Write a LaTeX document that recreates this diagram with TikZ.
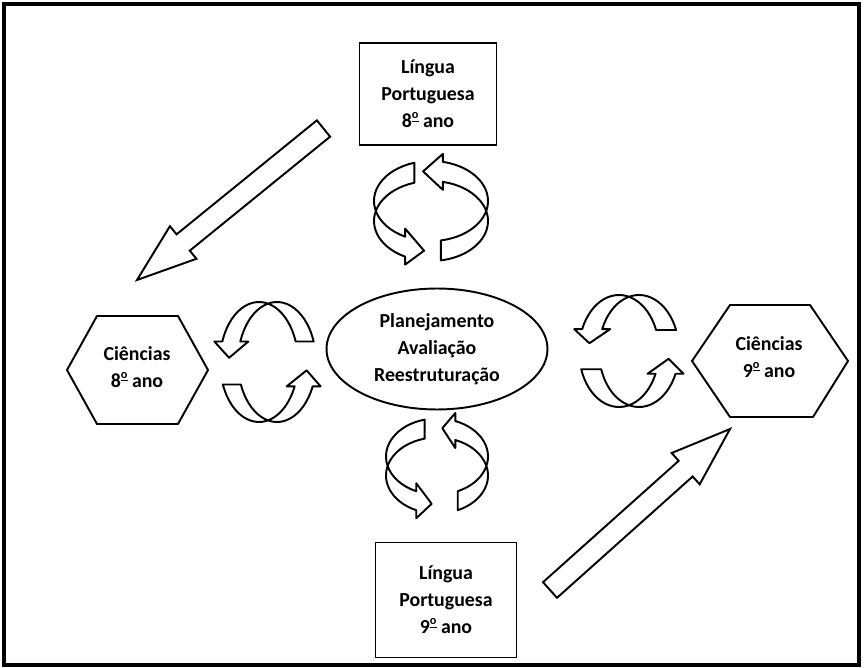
\documentclass[tikz,border=0pt]{standalone}
\usepackage{fontspec}
\setmainfont{Carlito}
\usetikzlibrary{calc,shapes.geometric}

% ordinal com sublinhado
\newcommand{\ordo}{\raisebox{0.95ex}{\fontsize{7}{7}\selectfont\underline{o}}}

% fita curva: a, b, d, hoek start, hoek kop, hoek punt
\newcommand{\fita}[6]{%
  \draw[fita] ($(#4:#1 and #2)+(0,#3)$)
    arc[start angle=#4, end angle=#5, x radius=#1, y radius=#2]
    -- ($(#5:#1 and #2)+(0,#3+8)$) -- (#6:#1 and #2)
    -- ($(#5:#1 and #2)+(0,-#3-8)$) -- ($(#5:#1 and #2)+(0,-#3)$)
    arc[start angle=#5, end angle=#4, x radius=#1, y radius=#2] -- cycle;}

% seta larga van #1 naar #2
\newcommand{\setagrande}[2]{%
  \coordinate (#2-b) at ($(#2)!1.19cm!(#1)$);
  \draw[seta larga] ($(#1)!0.21cm!90:(#2)$) -- ($(#2-b)!0.21cm!90:(#2)$)
    -- ($(#2-b)!0.42cm!90:(#2)$) -- (#2)
    -- ($(#2-b)!0.42cm!-90:(#2)$) -- ($(#2-b)!0.21cm!-90:(#2)$)
    -- ($(#1)!0.21cm!-90:(#2)$) -- cycle;}

\begin{document}
\begin{tikzpicture}[x=0.02cm, y=-0.02cm]
  \tikzset{
    linha/.style={draw, line width=1.1pt, line join=round},
    texto/.style={font=\bfseries\fontsize{11.3}{15.3}\selectfont, align=center},
    fita/.style={draw, fill=white, line width=1.1pt, line join=round},
    seta larga/.style={draw, fill=white, line width=1.1pt, line join=miter}
  }
  \useasboundingbox (0,0) rectangle (864,668);
  \draw[line width=1.8pt] (4,4) rectangle (859,665);

  % Centro
  \node[texto, draw, ellipse, line width=1.1pt, minimum width=4.42cm, minimum height=2.42cm, inner sep=1pt] (centro) at (437,349) {Planejamento\\Avaliação\\Reestruturação};

  % Língua Portuguesa (boven en onder)
  \node[texto, draw, line width=1.1pt, minimum width=2.74cm, minimum height=2.04cm] (lp8) at (428,94) {Língua\\Portuguesa\\8\ordo\ ano};
  \node[texto, draw, line width=1.1pt, minimum width=2.82cm, minimum height=2.3cm] (lp9) at (446,600) {Língua\\Portuguesa\\9\ordo\ ano};

  % Ciências (links en rechts)
  \draw[linha] (67,370) -- (97,316) -- (178,316) -- (208,370) -- (178,424) -- (97,424) -- cycle;
  \node[texto] (cien8) at (137,367) {Ciências\\8\ordo\ ano};
  \draw[linha] (692,361) -- (730,305) -- (810,305) -- (848,361) -- (813,417) -- (730,417) -- cycle;
  \node[texto] (cien9) at (769,357) {Ciências\\9\ordo\ ano};

  % Setas grandes
  \coordinate (s1a) at (323.5,128.5);
  \coordinate (s1b) at (137,280);
  \setagrande{s1a}{s1b}
  \coordinate (s2a) at (550,590);
  \coordinate (s2b) at (730,429);
  \setagrande{s2a}{s2b}

  % Ciclo boven
  \begin{scope}[shift={(431,211)}, y=0.02cm]
    \fita{57}{40}{10}{107}{243}{263}
    \fita{57}{40}{10}{280}{438}{458}
  \end{scope}

  % Ciclo onder
  \begin{scope}[shift={(437,466)}, y=0.02cm]
    \fita{51}{38}{9.5}{104}{246}{264}
    \fita{51}{38}{9.5}{294}{429}{444}
  \end{scope}

  % Ciclo links
  \begin{scope}[shift={(268,362)}, y=0.02cm, rotate=90]
    \fita{60}{39}{9}{112}{246}{262}
    \fita{60}{39}{9}{290}{430}{446}
  \end{scope}

  % Ciclo rechts
  \begin{scope}[shift={(629,351)}, y=0.02cm, rotate=90]
    \fita{56}{40}{10}{109}{246}{262}
    \fita{56}{40}{10}{292}{427}{442}
  \end{scope}
\end{tikzpicture}
\end{document}
